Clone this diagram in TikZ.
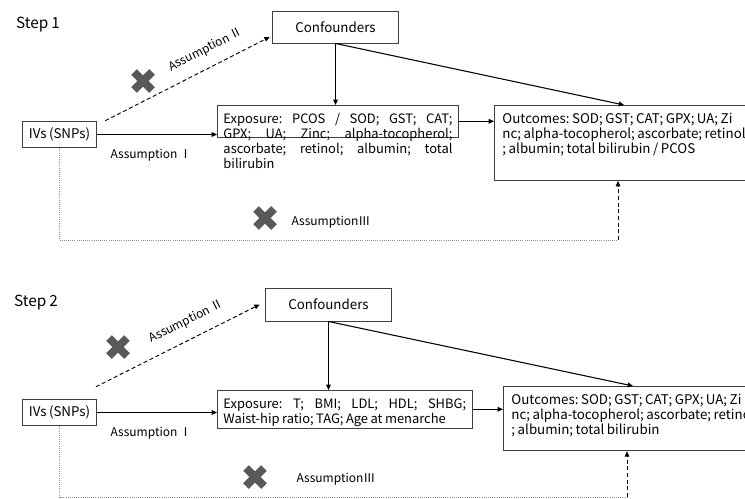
\documentclass[tikz,border=0pt]{standalone}
\usepackage{fontspec}
\setmainfont{Noto Sans CJK SC}[WordSpace=0.85]
\usepackage{tikz}
\usetikzlibrary{positioning,arrows.meta,calc}
\usepackage{xcolor}
\frenchspacing
\definecolor{boxline}{HTML}{3F3F3F}
\definecolor{crossgray}{HTML}{595959}
\definecolor{dotgray}{HTML}{8C8C8C}
\tikzset{
  box/.style={
    draw=boxline, line width=0.7pt,
    align=center, font=\fontsize{10}{11}\selectfont, inner sep=1.5mm
  },
  textbox/.style={
    draw=boxline, line width=0.7pt, anchor=north west,
    align=justify, font=\fontsize{9.7}{11.25}\selectfont,
    inner xsep=4.5pt, inner ysep=6pt
  },
  outbox/.style={
    draw=boxline, line width=0.7pt, anchor=north west,
    align=left, font=\fontsize{10}{11.25}\selectfont,
    inner xsep=6pt, inner ysep=6pt
  },
  arrow/.style={-{Triangle[length=4pt,width=3.5pt]}, line width=0.8pt},
  dasharrow/.style={-{Triangle[length=4pt,width=3.5pt]}, line width=0.7pt,
    dash pattern=on 3pt off 2pt},
  dotline/.style={dotgray, line width=0.6pt, densely dotted},
  label/.style={font=\fontsize{9}{11}\selectfont},
  steplabel/.style={font=\fontsize{11.5}{13}\selectfont},
  cross/.style={crossgray, line width=6pt}
}

\begin{document}
\begin{tikzpicture}[x=0.75pt, y=-0.75pt]
  \useasboundingbox (0,0) rectangle (745,499);
  \clip (0,0) rectangle (745,499);

  % Step 1
  \node[steplabel] (step1) at (38,25) {Step 1};
  \node[box, minimum width=94pt, minimum height=24pt] (conf1) at (335.5,27) {Confounders};
  \node[box, minimum width=56pt, minimum height=20pt] (ivs1) at (59.5,134.5) {IVs (SNPs)};
  \node[textbox, text width=171.75pt, text depth=4pt] (exp1) at (217,105)
    {Exposure: PCOS / SOD; GST; CAT;\linebreak GPX; UA; Zinc; alpha-tocopherol;\linebreak ascorbate; retinol; albumin; total\linebreak bilirubin};
  \node[outbox, minimum width=186.75pt, text depth=14pt] (out1) at (494,105)
    {Outcomes: SOD; GST; CAT; GPX; UA; Zi\\nc; alpha-tocopherol; ascorbate; retinol\\; albumin; total bilirubin / PCOS};

  \draw[arrow] (ivs1) -- node[label, below=7pt, pos=0.45] {Assumption Ⅰ} (ivs1 -| exp1.west);
  \draw[arrow] (exp1.east) -- (exp1.east -| out1.west);
  \draw[arrow] (conf1.south) -- (conf1.south |- exp1.north);
  \draw[arrow] (conf1.south) -- (out1.north);
  \draw[dasharrow] ([xshift=6pt]ivs1.north east) --
    node[label, sloped, above=5pt, pos=0.66] {Assumption Ⅱ} ([xshift=-2pt,yshift=-7.5pt]conf1.west);
  \coordinate (low1) at (618,240);
  \draw[dotline] (ivs1.south) |- (low1);
  \draw[dasharrow] (low1) -- (low1 |- out1.south);
  \node[label] (ass3a) at (331,222) {AssumptionⅢ};

  % Step 2
  \node[steplabel] (step2) at (36,303) {Step 2};
  \node[box, minimum width=94.5pt, minimum height=24.75pt] (conf2) at (328.5,304.5) {Confounders};
  \node[box, minimum width=56pt, minimum height=20pt] (ivs2) at (59.5,412.5) {IVs (SNPs)};
  \node[textbox, text width=182pt, text depth=9pt] (exp2) at (217,390)
    {Exposure: T; BMI; LDL; HDL; SHBG;\linebreak Waist-hip ratio; TAG; Age at menarche};
  \node[outbox, minimum width=186pt, text depth=6pt] (out2) at (503,386)
    {Outcomes: SOD; GST; CAT; GPX; UA; Zi\\nc; alpha-tocopherol; ascorbate; retinol\\; albumin; total bilirubin};

  \draw[arrow] (ivs2) -- node[label, below=7pt, pos=0.45] {Assumption Ⅰ} (ivs2 -| exp2.west);
  \draw[arrow] (exp2.east) -- (exp2.east -| out2.west);
  \draw[arrow] (conf2.south) -- (conf2.south |- exp2.north);
  \draw[arrow] (conf2.south) -- (out2.north);
  \draw[dasharrow] ([xshift=-1pt,yshift=9pt]ivs2.north east) --
    node[label, sloped, above=5pt, pos=0.6] {Assumption Ⅱ} ([xshift=-4pt]conf2.west);
  \coordinate (low2) at (627,497);
  \draw[dotline] (ivs2.south) |- (low2);
  \draw[dasharrow] (low2) -- (low2 |- out2.south);
  \node[label] (ass3b) at (336,479) {AssumptionⅢ};

  % crosses
  \foreach \cx/\cy in {143/81, 265/218, 118/347, 255/477}{
    \draw[cross] (\cx-9,\cy-9) -- (\cx+9,\cy+9);
    \draw[cross] (\cx-9,\cy+9) -- (\cx+9,\cy-9);
  }
\end{tikzpicture}
\end{document}
